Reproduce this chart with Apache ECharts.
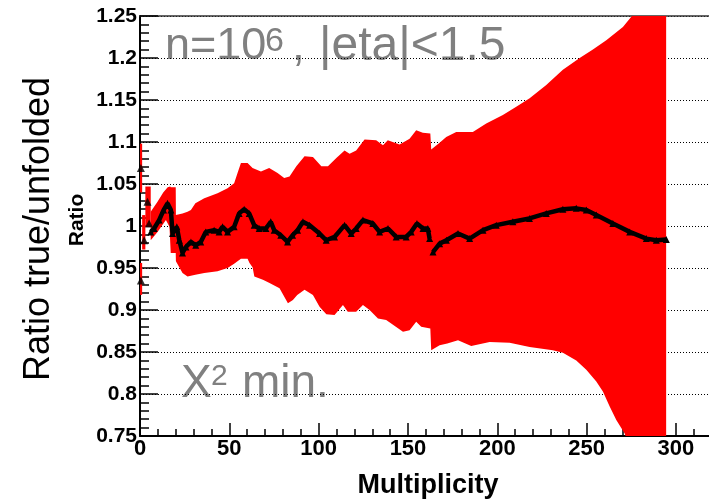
<!DOCTYPE html>
<html><head><meta charset="utf-8">
<script src="https://cdn.jsdelivr.net/npm/echarts@6/dist/echarts.min.js"></script>
<style>html,body{margin:0;padding:0;background:#fff}#c{width:709px;height:499px}</style>
</head><body><div id="c"></div><script>
// ---- data ----
const xTickLabels = [0, 50, 100, 150, 200, 250, 300];
// upper edge of the red uncertainty band (multiplicity, ratio)
const upperM = [6, 9.8, 13, 15.5, 16.9, 17.2, 20, 20.1, 23.8, 26.6, 28.5, 31, 36, 43.4, 49, 52.7, 54.6, 56.5, 60.2, 63, 67.7, 72.3, 77, 80.7, 83.7, 87.5, 92.1, 96.8, 101.5, 105.2, 109.9, 114.5, 117.3, 121, 125.7, 132.2, 136, 138.7, 145.3, 150.9, 154.6, 158.3, 162.5, 163, 167.7, 171.4, 177, 186.3, 193.8, 203.1, 210.6, 218.1, 227.4, 236.7, 246.1, 253.5, 261, 270.3, 275, 280, 290, 294.5];
const upperV = [1.017, 1.029, 1.040, 1.046, 1.047, 1.046, 1.046, 1.013, 1.015, 1.017, 1.019, 1.027, 1.033, 1.039, 1.045, 1.051, 1.063, 1.075, 1.075, 1.069, 1.065, 1.069, 1.063, 1.057, 1.059, 1.071, 1.083, 1.082, 1.071, 1.071, 1.081, 1.090, 1.086, 1.090, 1.103, 1.102, 1.096, 1.102, 1.097, 1.104, 1.114, 1.111, 1.110, 1.091, 1.099, 1.106, 1.112, 1.112, 1.122, 1.132, 1.142, 1.152, 1.168, 1.186, 1.200, 1.210, 1.221, 1.237, 1.249, 1.26, 1.28, 1.29];
// lower edge of the red band
const lowerM = [6, 9.8, 14.5, 16.5, 17.2, 20, 20.1, 23.8, 26.6, 31, 36, 43.4, 49, 52.7, 56.5, 60.2, 61.3, 63, 64, 68.8, 72.5, 78.1, 82.8, 85.6, 88, 92.1, 96.8, 100.5, 104.3, 108.9, 113.6, 116.3, 121, 124.8, 128.5, 133.2, 137.8, 140.6, 147.2, 150.9, 154.6, 157.4, 162.5, 163, 167.7, 172, 178, 185.4, 195.7, 206.9, 218.1, 231.1, 236.7, 244.2, 249.8, 255.4, 259.1, 262.9, 266.6, 271.3, 275, 280, 290, 294.5];
const lowerV = [0.983, 0.993, 1.007, 0.999, 0.968, 0.968, 0.958, 0.944, 0.940, 0.942, 0.944, 0.946, 0.950, 0.955, 0.961, 0.961, 0.956, 0.951, 0.940, 0.936, 0.932, 0.926, 0.908, 0.912, 0.918, 0.924, 0.918, 0.904, 0.895, 0.894, 0.906, 0.898, 0.898, 0.906, 0.900, 0.890, 0.888, 0.884, 0.874, 0.876, 0.886, 0.880, 0.878, 0.852, 0.858, 0.860, 0.864, 0.857, 0.862, 0.861, 0.856, 0.852, 0.849, 0.840, 0.829, 0.815, 0.803, 0.785, 0.769, 0.753, 0.73, 0.70, 0.64, 0.62];
// first low-multiplicity bins drawn as separate error boxes
const earlyFrom = [0, 0, 1.2, 3];
const earlyTo   = [1.2, 1.2, 3, 6];
const earlyLo   = [1.040, 0.918, 0.972, 0.999];
const earlyHi   = [1.098, 0.956, 1.013, 1.047];
const earlyPtM = [0.5, 0.5, 2.3, 4.2, 5.1];
const earlyPtV = [1.069, 0.935, 0.983, 1.029, 1.003];
// central ratio values
const ptM1 = [6, 7.9, 10.7, 13.2, 15.4, 17.3, 18.2, 20.6, 22, 23.8, 25.7, 28.5, 31.2, 34, 36.8, 41.5, 44.3, 46.2, 49, 52.7, 55.5, 58.3, 61.1, 63.9, 66.7, 70.5, 73.2, 75.1, 78.8, 82.6, 85.4, 88.2, 91.2, 94.9, 100.5, 104.2, 108.9, 114.5, 118.2, 121, 124.8, 130.3, 134.1, 138.8, 143.4, 149, 151.8, 155, 158.4, 161.1, 162.1];
const ptV1 = [0.993, 0.997, 1.007, 1.019, 1.027, 1.019, 0.991, 0.999, 0.983, 0.968, 0.975, 0.981, 0.977, 0.981, 0.993, 0.995, 0.993, 0.999, 0.993, 0.999, 1.015, 1.020, 1.015, 1.001, 0.997, 0.997, 1.005, 0.995, 0.989, 0.981, 0.989, 0.995, 1.005, 1.001, 0.991, 0.983, 0.987, 1.001, 0.991, 0.997, 1.007, 1.003, 0.993, 0.997, 0.987, 0.987, 0.993, 1.003, 0.997, 0.997, 0.985];
const ptM2 = [164, 167.7, 171.5, 178, 184.5, 192, 199.4, 208.7, 218, 227.4, 236.7, 244.2, 249.8, 255.4, 264.7, 274.1, 283.4, 289, 294.6];
const ptV2 = [0.969, 0.979, 0.983, 0.991, 0.985, 0.995, 1.001, 1.005, 1.009, 1.015, 1.020, 1.021, 1.019, 1.013, 1.003, 0.993, 0.985, 0.983, 0.984];

const FONT = 'Liberation Sans';
const zip = (a, b) => a.map((v, i) => [v, b[i]]);
const chart = echarts.init(document.getElementById('c'), null, {renderer: 'canvas'});

const option = {
  animation: false,
  backgroundColor: '#fff',
  grid: {left: 140, top: 16, width: 625.3, height: 420, containLabel: false, outerBoundsMode: 'none'},
  xAxis: [{
    type: 'value', min: 0, max: 350, interval: 50,
    axisLine: {lineStyle: {color: '#000', width: 2}},
    axisTick: {inside: true, length: 13, lineStyle: {color: '#000', width: 1.5}},
    minorTick: {show: true, splitNumber: 5, length: 7, lineStyle: {color: '#000', width: 1.5}},
    axisLabel: {margin: 2, fontSize: 22, fontWeight: 'bold', fontFamily: FONT, color: '#000',
      formatter: v => xTickLabels.indexOf(v) >= 0 ? String(v) : ''},
    splitLine: {show: false}
  }, {
    type: 'value', position: 'top', min: 0, max: 350,
    axisLine: {lineStyle: {color: '#333', width: 1.5}},
    axisTick: {show: false}, axisLabel: {show: false}, splitLine: {show: false}
  }],
  yAxis: {
    type: 'value', min: 0.75, max: 1.25, interval: 0.05,
    axisLine: {lineStyle: {color: '#000', width: 2}},
    axisTick: {inside: true, length: 18, lineStyle: {color: '#000', width: 1.5}},
    minorTick: {show: true, splitNumber: 5, length: 9, lineStyle: {color: '#000', width: 1.5}},
    axisLabel: {margin: 3, fontSize: 21, fontWeight: 'bold', fontFamily: FONT, color: '#000', padding: [7, 0, 0, 0]},
    splitLine: {show: true, lineStyle: {color: '#000', width: 1, type: [1, 2]}}
  },
  series: [
    {
      type: 'custom', clip: true, z: 2,
      data: [[100, 1]],
      renderItem: (params, api) => {
        const pts = [];
        for (let i = 0; i < upperM.length; i++) pts.push(api.coord([upperM[i], upperV[i]]));
        for (let i = lowerM.length - 1; i >= 0; i--) pts.push(api.coord([lowerM[i], lowerV[i]]));
        return {type: 'polygon', shape: {points: pts}, style: {fill: '#ff0000'}};
      }
    },
    {
      type: 'custom', clip: true, z: 2,
      data: earlyFrom.map((v, i) => [v, earlyTo[i], earlyLo[i], earlyHi[i]]),
      encode: {x: [0, 1], y: [2, 3]},
      renderItem: (params, api) => {
        const a = api.coord([api.value(0), api.value(3)]);
        const b = api.coord([api.value(1), api.value(2)]);
        return {type: 'rect', shape: {x: a[0], y: a[1], width: b[0] - a[0], height: b[1] - a[1]}, style: {fill: '#ff0000'}};
      }
    },
    {
      type: 'line', z: 4, data: zip(ptM1, ptV1), symbol: 'triangle', symbolSize: 7, showAllSymbol: true,
      lineStyle: {color: '#000', width: 4.5}, itemStyle: {color: '#000'}
    },
    {
      type: 'line', z: 4, data: zip(ptM2, ptV2), symbol: 'triangle', symbolSize: 7, showAllSymbol: true,
      lineStyle: {color: '#000', width: 4.5}, itemStyle: {color: '#000'}
    },
    {
      type: 'scatter', z: 4, data: zip(earlyPtM, earlyPtV), symbol: 'triangle', symbolSize: 8,
      itemStyle: {color: '#000'}
    }
  ],
  graphic: [
    {type: 'text', x: 39, y: 229, rotation: Math.PI / 2,
      style: {text: 'Ratio true/unfolded', fontSize: 36, fontFamily: FONT, fill: '#000', align: 'center', verticalAlign: 'middle'}},
    {type: 'text', x: 77, y: 220, rotation: Math.PI / 2,
      style: {text: 'Ratio', fontSize: 21, fontWeight: 'bold', fontFamily: FONT, fill: '#000', align: 'center', verticalAlign: 'middle'}},
    {type: 'text', x: 428, y: 486,
      style: {text: 'Multiplicity', fontSize: 27, fontWeight: 'bold', fontFamily: FONT, fill: '#000', align: 'center', verticalAlign: 'middle'}},
    {type: 'text', x: 165, y: 47,
      style: {text: 'n=10', fontSize: 45, fontFamily: FONT, fill: '#808080', align: 'left', verticalAlign: 'middle'}},
    {type: 'text', x: 265, y: 42,
      style: {text: '6', fontSize: 34, fontFamily: FONT, fill: '#808080', align: 'left', verticalAlign: 'middle'}},
    {type: 'text', x: 292, y: 47,
      style: {text: ',', fontSize: 46, fontFamily: FONT, fill: '#808080', align: 'left', verticalAlign: 'middle'}},
    {type: 'text', x: 319, y: 47,
      style: {text: '|eta|<1.5', fontSize: 48, fontFamily: FONT, fill: '#808080', align: 'left', verticalAlign: 'middle'}},
    {type: 'text', x: 181, y: 384,
      style: {text: 'X', fontSize: 46, fontFamily: FONT, fill: '#808080', align: 'left', verticalAlign: 'middle'}},
    {type: 'text', x: 211, y: 377,
      style: {text: '2', fontSize: 30, fontFamily: FONT, fill: '#808080', align: 'left', verticalAlign: 'middle'}},
    {type: 'text', x: 242, y: 384,
      style: {text: 'min.', fontSize: 46, fontFamily: FONT, fill: '#808080', align: 'left', verticalAlign: 'middle'}}
  ]
};
chart.setOption(option);
</script></body></html>
